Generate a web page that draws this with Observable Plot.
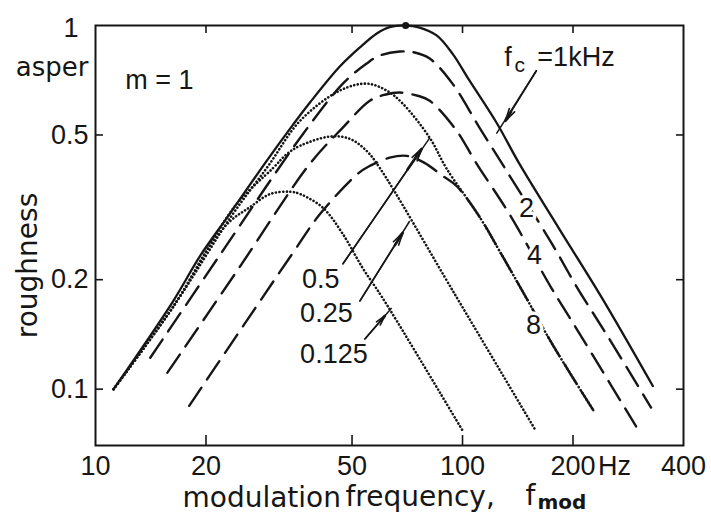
<!DOCTYPE html>
<html>
<head>
<meta charset="utf-8">
<script src="https://cdn.jsdelivr.net/npm/d3@7"></script>
<script src="https://cdn.jsdelivr.net/npm/@observablehq/plot@0.6"></script>
<style>
  body { margin: 0; background: #fff; }
  svg { display: block; }
</style>
</head>
<body>
<div id="chart"></div>
<script>
// ---- data ----
// modulation frequency (Hz) and roughness (asper) for each carrier frequency fc
const fc1_f = [11.2, 16.3, 19.3, 23.3, 29.3, 34.5, 38.4, 46.3, 52.5, 58.4, 63.3, 70, 76.4, 85.0, 93.9, 104.4, 123.7, 142.8, 183.4, 240, 330];
const fc1_r = [0.100, 0.175, 0.233, 0.305, 0.425, 0.533, 0.614, 0.771, 0.870, 0.951, 0.990, 1.0, 0.987, 0.939, 0.837, 0.706, 0.541, 0.417, 0.276, 0.178, 0.102];

const fc2_f = [14.1, 21.9, 36.8, 47.2, 54.8, 59.5, 67.4, 74.1, 81.4, 93.9, 111.2, 131.7, 174.5, 205.4, 246.2, 326.3];
const fc2_r = [0.122, 0.235, 0.504, 0.692, 0.786, 0.827, 0.848, 0.843, 0.811, 0.692, 0.524, 0.399, 0.253, 0.190, 0.142, 0.089];

const fc4_f = [15.7, 24.8, 38.4, 47.2, 55.9, 61.4, 67.4, 75.5, 81.4, 96.3, 109.2, 134.2, 174.5, 204.1, 297.1];
const fc4_r = [0.111, 0.218, 0.417, 0.524, 0.621, 0.645, 0.654, 0.641, 0.621, 0.514, 0.417, 0.303, 0.190, 0.147, 0.079];

const fc8_f = [18.0, 34.5, 40.9, 51.8, 55.9, 63.3, 70.4, 78.8, 88.2, 96.3, 111.2, 126.1, 149.3, 175.6, 228];
const fc8_r = [0.090, 0.237, 0.303, 0.391, 0.411, 0.433, 0.438, 0.419, 0.386, 0.362, 0.298, 0.240, 0.178, 0.133, 0.087];

const fc05_f = [11.2, 16.5, 23.5, 29.5, 36.1, 46.3, 54.8, 62.2, 68.7, 81.4, 90.5, 111.2, 126.1, 149.3, 175.6, 228];
const fc05_r = [0.100, 0.172, 0.300, 0.410, 0.547, 0.662, 0.692, 0.662, 0.610, 0.491, 0.404, 0.298, 0.240, 0.178, 0.133, 0.087];

const fc025_f = [11.2, 16.5, 24.0, 30.5, 33.3, 36.1, 43.5, 49.3, 54.8, 59.5, 95.1, 157];
const fc025_r = [0.100, 0.172, 0.319, 0.406, 0.444, 0.467, 0.495, 0.488, 0.452, 0.406, 0.183, 0.078];

const fc0125_f = [11.2, 16.5, 20.5, 23.3, 26.4, 29.9, 33.9, 36.1, 41.7, 47.2, 53.5, 60.6, 100];
const fc0125_r = [0.100, 0.172, 0.248, 0.290, 0.317, 0.344, 0.349, 0.344, 0.315, 0.267, 0.215, 0.178, 0.077];

// peak marker (1 kHz, 70 Hz, 1 asper)
const peakF = [70];
const peakR = [1.0];

// axis ticks
const xTickValues = [10, 20, 50, 100, 200, 400];
const xTickMarks = [20, 50, 100, 200];
const yTickValues = [0.1, 0.2, 0.5];
const yTopValue = [1];
const yTickMarks = [0.1, 0.2, 0.5];

// in-plot labels
const annotText = ["m = 1", "2", "4", "8", "0.5", "0.25", "0.125"];
const annotF = [12.06, 149.3, 157, 156, 36.5, 36.1, 36.1];
const annotR = [0.706, 0.315, 0.234, 0.150, 0.201, 0.162, 0.125];
const annotAnchor = ["start", "middle", "middle", "middle", "start", "start", "start"];

// fc = 1kHz label pieces
const fcText = ["f", "=1kHz"];
const fcF = [130.0, 159.9];
const fcR = [0.816, 0.816];
const fcSubText = ["c"];
const fcSubF = [138.5];
const fcSubR = [0.777];

// pointer arrows: start, arrow-head tip, end of line
const arrowF1 = [158.9, 47.2, 52.5, 54.2];
const arrowR1 = [0.751, 0.221, 0.1747, 0.1373];
const headF = [130.9, 77.4, 68.7, 61.4];
const headR = [0.547, 0.458, 0.269, 0.159];
const arrowF2 = [123.7, 81.4, 71.8, 64.1];
const arrowR2 = [0.504, 0.491, 0.290, 0.1671];

// ---- build tables ----
const series = [
  {fc: "1", style: "solid", f: fc1_f, r: fc1_r},
  {fc: "2", style: "dashed", f: fc2_f, r: fc2_r},
  {fc: "4", style: "dashed", f: fc4_f, r: fc4_r},
  {fc: "8", style: "dashed", f: fc8_f, r: fc8_r},
  {fc: "0.5", style: "dotted", f: fc05_f, r: fc05_r},
  {fc: "0.25", style: "dotted", f: fc025_f, r: fc025_r},
  {fc: "0.125", style: "dotted", f: fc0125_f, r: fc0125_r}
];
const rows = series.flatMap(s => s.f.map((f, i) => ({fc: s.fc, style: s.style, f, r: s.r[i]})));
const annots = annotText.map((t, i) => ({t, f: annotF[i], r: annotR[i], a: annotAnchor[i]}));
// the short segment just before each head is drawn thicker to look like a filled head
const along = (a, b, k) => Math.pow(a, 1 - k) * Math.pow(b, k);
const arrows = arrowF1.map((_, i) => ({
  x1: arrowF1[i], y1: arrowR1[i], hx: headF[i], hy: headR[i], x2: arrowF2[i], y2: arrowR2[i],
  mx: along(arrowF1[i], headF[i], 0.82), my: along(arrowR1[i], headR[i], 0.82)
}));
const peaks = peakF.map((f, i) => ({f, r: peakR[i]}));

const ink = "#161616";
const words = "DejaVu Sans, sans-serif";
const nums = "Liberation Sans, Arial, sans-serif";

const chart = Plot.plot({
  width: 711,
  height: 514,
  marginLeft: 95,
  marginRight: 28,
  marginTop: 25,
  marginBottom: 69,
  x: {type: "log", domain: [10, 400], axis: null},
  y: {type: "log", domain: [0.07, 1], axis: null},
  style: {fontFamily: nums, fontSize: "27px", color: ink, background: "white", overflow: "visible"},
  marks: [
    // curves
    Plot.line(rows.filter(d => d.style === "dotted"), {
      x: "f", y: "r", z: "fc", curve: "catmull-rom",
      stroke: ink, strokeWidth: 2.6, strokeDasharray: "0.1,3.5", strokeLinecap: "round"
    }),
    Plot.line(rows.filter(d => d.style === "dashed"), {
      x: "f", y: "r", z: "fc", curve: "catmull-rom",
      stroke: ink, strokeWidth: 2.4, strokeDasharray: "22,10"
    }),
    Plot.line(rows.filter(d => d.style === "solid"), {
      x: "f", y: "r", z: "fc", curve: "catmull-rom",
      stroke: ink, strokeWidth: 2.3
    }),
    Plot.dot(peaks, {x: "f", y: "r", r: 3.6, fill: ink, stroke: null}),

    // frame and inward ticks
    Plot.frame({stroke: ink, strokeWidth: 2}),
    Plot.tickX(xTickMarks, {x: d => d, insetTop: 410, stroke: ink, strokeWidth: 1.6}),
    Plot.tickX(xTickMarks, {x: d => d, insetBottom: 412, stroke: ink, strokeWidth: 1.6}),
    Plot.tickY(yTickMarks, {y: d => d, insetRight: 580, stroke: ink, strokeWidth: 1.6}),
    Plot.tickY(yTickMarks, {y: d => d, insetLeft: 581, stroke: ink, strokeWidth: 1.6}),

    // tick labels
    Plot.axisX(xTickValues, {anchor: "bottom", tickSize: 0, tickPadding: 10, tickFormat: d => String(d), fontFamily: nums, fontSize: 27}),
    Plot.text(["Hz"], {x: [200], frameAnchor: "bottom", text: d => d, textAnchor: "start", lineAnchor: "top", dx: 25, dy: 10, fontFamily: nums, fontSize: 27, fill: ink}),
    Plot.axisY(yTickValues, {anchor: "left", tickSize: 0, tickPadding: 7, tickFormat: d => String(d), fontFamily: nums, fontSize: 27}),
    Plot.axisY(yTopValue, {anchor: "left", tickSize: 0, tickPadding: 17, dy: 3, tickFormat: d => String(d), fontFamily: nums, fontSize: 27}),
    Plot.text(["asper"], {frameAnchor: "top-left", text: d => d, textAnchor: "end", dx: -7, dy: 32, fontFamily: words, fontSize: 26, fill: ink}),

    // axis titles
    Plot.text(["roughness"], {frameAnchor: "left", text: d => d, textAnchor: "middle", rotate: -90, dx: -67, dy: 30, fontFamily: words, fontSize: 28, fill: ink}),
    Plot.text(["modulation"], {frameAnchor: "bottom-left", text: d => d, textAnchor: "start", lineAnchor: "bottom", dx: 87, dy: 61, fontFamily: words, fontSize: 28, fill: ink}),
    Plot.text(["frequency,"], {frameAnchor: "bottom-left", text: d => d, textAnchor: "start", lineAnchor: "bottom", dx: 250, dy: 60, fontFamily: words, fontSize: 28, fill: ink}),
    Plot.text(["f"], {frameAnchor: "bottom-left", text: d => d, textAnchor: "start", lineAnchor: "bottom", dx: 430, dy: 59, fontFamily: words, fontSize: 28, fill: ink}),
    Plot.text(["mod"], {frameAnchor: "bottom-left", text: d => d, textAnchor: "start", lineAnchor: "bottom", dx: 442, dy: 63, fontFamily: words, fontSize: 20, fontWeight: "bold", fill: ink}),

    // annotations
    Plot.text(annots.filter(d => d.a === "start"), {x: "f", y: "r", text: "t", textAnchor: "start", fontFamily: nums, fontSize: 27, fill: ink}),
    Plot.text(annots.filter(d => d.a === "middle"), {x: "f", y: "r", text: "t", textAnchor: "middle", fontFamily: nums, fontSize: 27, fill: ink, stroke: "white", strokeWidth: 7, paintOrder: "stroke"}),
    Plot.text(fcText.map((t, i) => ({t, f: fcF[i], r: fcR[i]})), {x: "f", y: "r", text: "t", textAnchor: "start", fontFamily: nums, fontSize: 27, fill: ink}),
    Plot.text(fcSubText.map((t, i) => ({t, f: fcSubF[i], r: fcSubR[i]})), {x: "f", y: "r", text: "t", textAnchor: "start", fontFamily: nums, fontSize: 21, fill: ink}),

    // pointer arrows
    Plot.link(arrows, {x1: "x1", y1: "y1", x2: "x2", y2: "y2", stroke: ink, strokeWidth: 1.5}),
    Plot.arrow(arrows, {x1: "x1", y1: "y1", x2: "hx", y2: "hy", stroke: ink, strokeWidth: 1.6, headLength: 12, headAngle: 28}),
    Plot.arrow(arrows, {x1: "mx", y1: "my", x2: "hx", y2: "hy", stroke: ink, strokeWidth: 2.6, headLength: 9, headAngle: 16})
  ]
});

document.getElementById("chart").appendChild(chart);
</script>
</body>
</html>
